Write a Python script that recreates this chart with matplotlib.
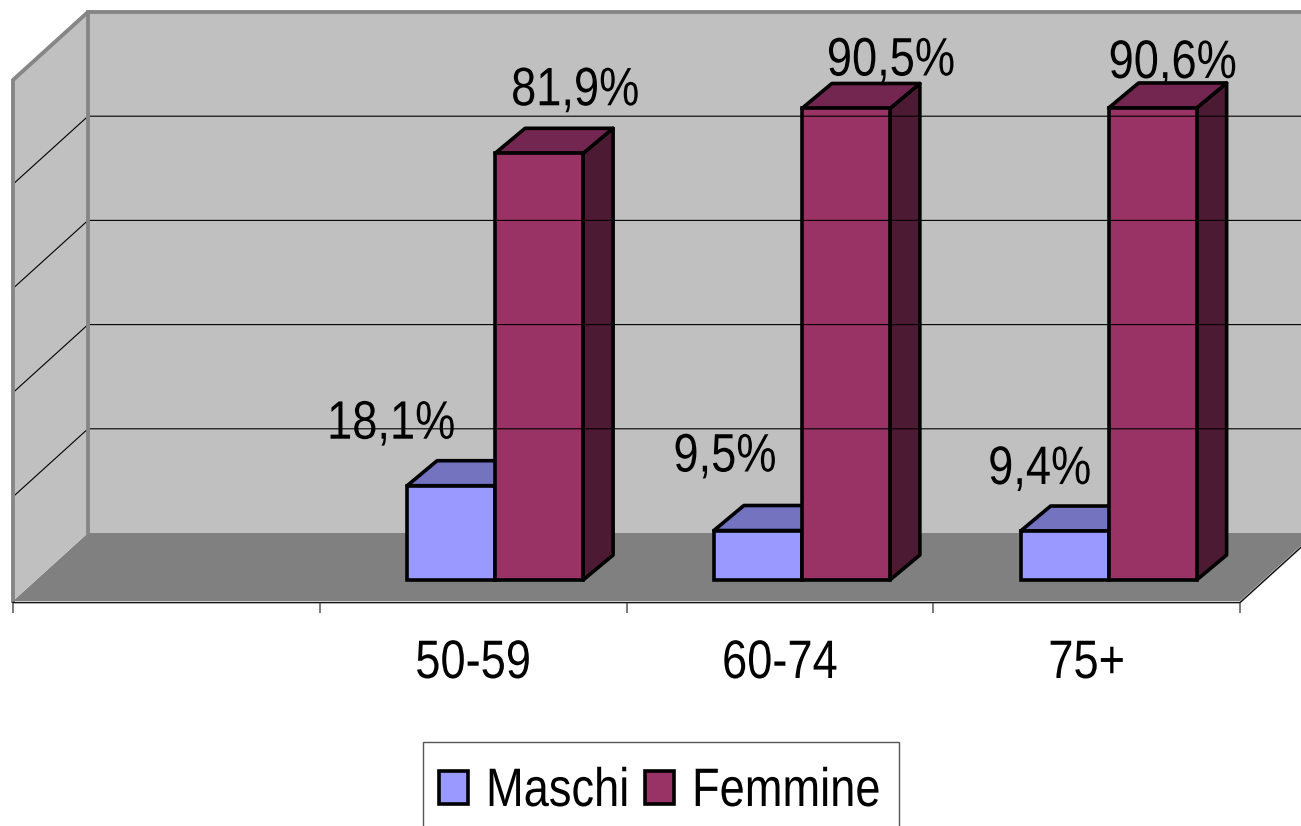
import matplotlib
matplotlib.use('Agg')
import matplotlib.pyplot as plt
from matplotlib.patches import Rectangle
from matplotlib.patheffects import AbstractPathEffect
from matplotlib.transforms import Affine2D

# valori
categories = ['50-59', '60-74', '75+']
maschi = [18.1, 9.5, 9.4]
femmine = [81.9, 90.5, 90.6]
maschi_labels = ['18,1%', '9,5%', '9,4%']
femmine_labels = ['81,9%', '90,5%', '90,6%']
grid_values = [20, 40, 60, 80]
series_names = ['Maschi', 'Femmine']

# scala: una categoria = 306.75 px, 1% = 5.21 px
PX_X = 306.75
PX_Y = 5.21
W, H = 1301, 826
X0, Y0 = 13, 601

# profondita del finto 3D, in unita dati
DEPTH_X = 75 / PX_X
DEPTH_Y = 68 / PX_Y
BAR_DX = 30 / PX_X
BAR_DY = 25 / PX_Y
BAR_BASE = 21 / PX_Y
BAR_SHIFT = 22 / PX_X
BAR_W = 88 / PX_X

FONT = 39
SQUEEZE = 0.835

plt.rcParams['font.family'] = ['Liberation Sans']


# il testo originale e' schiacciato in orizzontale: lo stringo attorno a cx
class Squeeze(AbstractPathEffect):
    def __init__(self, cx):
        super().__init__()
        self.cx = cx

    def draw_path(self, renderer, gc, tpath, affine, rgbFace=None):
        t = affine + Affine2D().translate(-self.cx, 0).scale(SQUEEZE, 1).translate(self.cx, 0)
        renderer.draw_path(gc, tpath, t, rgbFace)


fig = plt.figure(figsize=(W / 100, H / 100), dpi=100)
ax = fig.add_axes([0, 0, 1, 1])
ax.set_xlim(-X0 / PX_X, (W - X0) / PX_X)
ax.set_ylim((Y0 - H) / PX_Y, Y0 / PX_Y)
ax.axis('off')


def label(x, y, txt, dx=0, dy=0):
    cx = ax.transData.transform((x, 0))[0] + dx
    ax.annotate(txt, (x, y), xytext=(dx, dy), textcoords='offset pixels', ha='center',
                va='baseline', fontsize=FONT, path_effects=[Squeeze(cx)])


n_cat = len(categories) + 1
xr = float(n_cat)

# pareti e pavimento
ax.fill([0, DEPTH_X, xr + DEPTH_X, xr], [0, DEPTH_Y, DEPTH_Y, 0], color='#808080', lw=0)
ax.fill([DEPTH_X, xr + DEPTH_X, xr + DEPTH_X, DEPTH_X],
        [DEPTH_Y, DEPTH_Y, DEPTH_Y + 100, DEPTH_Y + 100], color='#C0C0C0', lw=0)
ax.fill([0, DEPTH_X, DEPTH_X, 0], [0, DEPTH_Y, DEPTH_Y + 100, 100], color='#C0C0C0', lw=0)

# griglia
for g in grid_values:
    ax.plot([0, DEPTH_X, xr + DEPTH_X], [g, g + DEPTH_Y, g + DEPTH_Y], color='black', lw=0.8)

# bordi grigi delle pareti
ax.plot([xr + DEPTH_X, DEPTH_X, 0, 0], [DEPTH_Y + 100, DEPTH_Y + 100, 100, 0],
        color='#868686', lw=2.8, solid_joinstyle='miter')
ax.plot([DEPTH_X, DEPTH_X], [DEPTH_Y, DEPTH_Y + 100], color='#868686', lw=2.8)

# asse x con le tacche
ax.plot([0, xr, xr + DEPTH_X], [-0.3, -0.3, DEPTH_Y - 0.3], color='#111111', lw=1.1)
ax.vlines(range(n_cat + 1), -2.3, -0.3, color='#555555', lw=1.1)


def draw_bar(left, value, col, col_top, col_side):
    top = BAR_BASE + value
    right = left + BAR_W
    edge = dict(edgecolor='black', lw=2.6, joinstyle='round')
    ax.fill([right, right + BAR_DX, right + BAR_DX, right],
            [BAR_BASE, BAR_BASE + BAR_DY, top + BAR_DY, top], facecolor=col_side, **edge)
    ax.fill([left, left + BAR_DX, right + BAR_DX, right],
            [top, top + BAR_DY, top + BAR_DY, top], facecolor=col_top, **edge)
    ax.bar(left, value, BAR_W, bottom=BAR_BASE, align='edge', facecolor=col,
           edgecolor='black', lw=2.6)
    return top


# offset a mano delle etichette, in pixel
off_m = [(-60, 47), (-33, 59), (-25, 47)]
off_f = [(36, 48), (45, 33), (20, 30)]

for i, cat in enumerate(categories):
    pos = i + 1
    center = pos + 0.5 + BAR_SHIFT
    top_m = draw_bar(center - BAR_W, maschi[i], '#9999FF', '#7373BF', '#4D4D80')
    top_f = draw_bar(center, femmine[i], '#993366', '#732650', '#4D1A33')
    label(center - BAR_W / 2, top_m, maschi_labels[i], *off_m[i])
    label(center + BAR_W / 2, top_f, femmine_labels[i], *off_f[i])
    label(pos + 0.5, (Y0 - 678) / PX_Y, cat)


# legenda in pixel, tagliata in basso come nell'originale
def box(x0, y0, x1, y1, **kw):
    fig.add_artist(Rectangle((x0 / W, 1 - y1 / H), (x1 - x0) / W, (y1 - y0) / H,
                             transform=fig.transFigure, **kw))


box(423, 742, 899, 860, facecolor='white', edgecolor='#555555', lw=1)
for name, col, sx, tx in zip(series_names, ['#9999FF', '#993366'], [439, 645], [486, 692]):
    box(sx, 771, sx + 29, 804, facecolor=col, edgecolor='black', lw=2.6)
    fig.text(tx / W, 1 - 806 / H, name, ha='left', va='baseline', fontsize=FONT,
             path_effects=[Squeeze(tx)])

fig.savefig('out.png', dpi=100)
